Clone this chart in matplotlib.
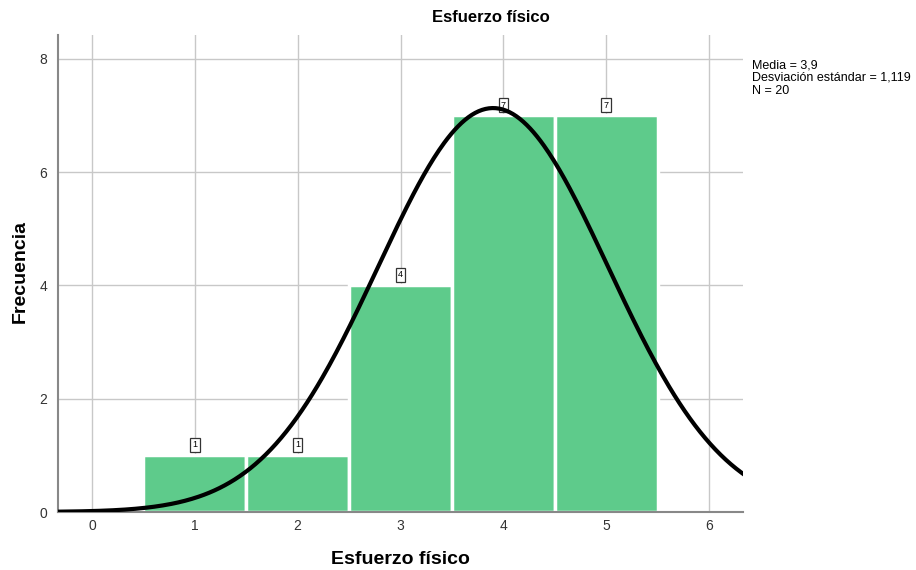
import numpy as np
import matplotlib
matplotlib.use("Agg")
import matplotlib.pyplot as plt

plt.rcParams['font.family'] = ['Liberation Sans', 'DejaVu Sans']

categories = [1, 2, 3, 4, 5]
counts = [1, 1, 4, 7, 7]
mean, sd, n = 3.9, 1.119, 20
xticks = [0, 1, 2, 3, 4, 5, 6]
yticks = [0, 2, 4, 6, 8]

W, H = 916, 570
fig = plt.figure(figsize=(W/100, H/100), dpi=100)
ax = fig.add_axes([58/W, 1-512/H, (743-58)/W, (512-35)/H])

ax.set_xlim(-0.33, 6.33)
ax.set_ylim(0, 8.42)
ax.set_xticks(xticks)
ax.set_yticks(yticks)
ax.grid(True, color="#c8c8c8", linewidth=1)
ax.set_axisbelow(True)

ax.bar(categories, counts, width=1.0, color="#5ecb8b", edgecolor="white", linewidth=2.5, zorder=2)

xs = np.linspace(-0.33, 6.33, 400)
ys = n * 1.0 / (sd*np.sqrt(2*np.pi)) * np.exp(-0.5*((xs-mean)/sd)**2)
ax.plot(xs, ys, color="black", linewidth=3, zorder=4, clip_on=True)

for c, v in zip(categories, counts):
    ax.annotate(str(v), (c, v), xytext=(0, 7.5), textcoords="offset points",
                ha="center", va="center", fontsize=6.5, zorder=3,
                bbox=dict(boxstyle="square,pad=0.25", fc="white", ec="#333333", lw=0.9))

for s in ["top", "right"]:
    ax.spines[s].set_visible(False)
ax.spines["left"].set_color("#888888")
ax.spines["bottom"].set_color("#888888")
ax.spines["left"].set_linewidth(1.5)
ax.spines["bottom"].set_linewidth(1.5)
ax.tick_params(axis="x", length=0, labelsize=10, colors="#333333", pad=5)
ax.tick_params(axis="y", length=0, labelsize=10, colors="#333333", pad=8)

fig.text(400/W, 1-560/H, "Esfuerzo físico", ha="center", va="center", fontsize=14, fontweight="bold")
fig.text(20/W, 1-272/H, "Frecuencia", ha="center", va="center", rotation=90, fontsize=14, fontweight="bold")
fig.text(491/W, 1-18/H, "Esfuerzo físico", ha="center", va="center", fontsize=12, fontweight="bold")
fig.text(752/W, 1-59/H, "Media = 3,9\nDesviación estándar = 1,119\nN = 20",
         ha="left", va="top", fontsize=9, linespacing=1.1)

fig.savefig("out.png", dpi=100)
